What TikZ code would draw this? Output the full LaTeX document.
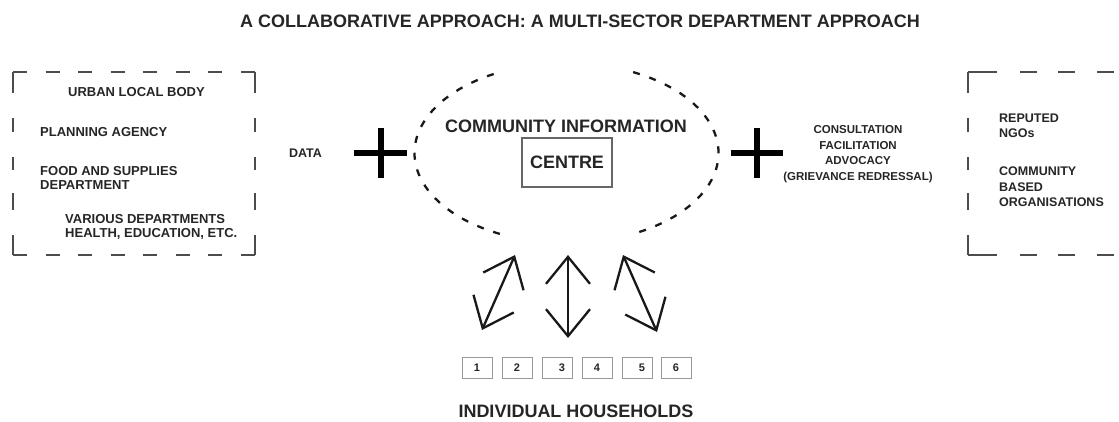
\documentclass[tikz,border=0pt]{standalone}
\usepackage{fontspec}
\setmainfont{Liberation Sans}
\usetikzlibrary{arrows.meta}
\begin{document}
\begin{tikzpicture}[x=1pt,y=-1pt,
  lbl/.style={inner sep=0pt, text=black!85, align=left, font=\bfseries\fontsize{13}{14.5}\selectfont},
  rlbl/.style={lbl, font=\bfseries\fontsize{12.5}{15.5}\selectfont},
  clbl/.style={inner sep=0pt, text=black!85, align=center, font=\bfseries\fontsize{11.5}{15.5}\selectfont},
  big/.style={inner sep=0pt, text=black!85, font=\bfseries\fontsize{18}{20}\selectfont},
  frameh/.style={draw=black!70, line width=1.5pt, dash pattern=on 14pt off 18.57pt},
  framev/.style={draw=black!70, line width=1.5pt, dash pattern=on 21pt off 25pt on 14pt off 25pt on 13pt off 23pt on 17pt off 25pt on 20pt off 10pt},
  plus/.style={line width=6.5pt, black},
  oval/.style={line width=2.3pt, dash pattern=on 7pt off 10pt, black!90},
  hbox/.style={draw=black!40, line width=1pt, minimum width=30pt, minimum height=21pt, inner sep=0pt, font=\bfseries\fontsize{11}{12}\selectfont, text=black!85},
  dbl/.style={line width=2.3pt, black!90, {Straight Barb[length=27pt,width=44pt]}-{Straight Barb[length=27pt,width=44pt]}}
]
\useasboundingbox (0,0) rectangle (1119,421);
\clip (0,0) rectangle (1119,421);
\fill[white] (0,0) rectangle (1119,421);

% title
\node[big] (title) at (580,21) {A COLLABORATIVE APPROACH: A MULTI-SECTOR DEPARTMENT APPROACH};

% left dashed frame
\draw[frameh] (13,72) -- (255,72);
\draw[frameh] (13,255) -- (255,255);
\draw[framev] (13,72) -- (13,255);
\draw[framev] (255,72) -- (255,255);

\node[lbl, anchor=west] (ulb) at (68,92) {URBAN LOCAL BODY};
\node[lbl, anchor=west] (pa) at (40,132) {PLANNING AGENCY};
\node[lbl, anchor=west] (fsd) at (40,178) {FOOD AND SUPPLIES\\DEPARTMENT};
\node[lbl, anchor=west] (vd) at (65,227) {VARIOUS DEPARTMENTS\\HEALTH, EDUCATION, ETC.};

% right dashed frame (runs off the page)
\draw[draw=black!70, line width=1.5pt, dash pattern=on 29pt off 23pt on 17pt off 21pt on 17pt off 22pt on 17pt off 20pt] (968,72) -- (1130,72);
\draw[draw=black!70, line width=1.5pt, dash pattern=on 29pt off 23pt on 17pt off 21pt on 17pt off 22pt on 17pt off 20pt] (968,255) -- (1130,255);
\draw[framev] (968,72) -- (968,255);

\node[rlbl, anchor=west] (ngo) at (999,126) {REPUTED\\NGOs};
\node[rlbl, anchor=west] (cbo) at (999,187) {COMMUNITY\\BASED\\ORGANISATIONS};

% data and plus signs
\node[rlbl, anchor=center] (data) at (305.5,153) {DATA};
\draw[plus] (354,153) -- (407,153);
\draw[plus] (381,128) -- (381,178);
\draw[plus] (731,153) -- (783,153);
\draw[plus] (757,128) -- (757,178);

\node[clbl] (cons) at (858,154) {CONSULTATION\\FACILITATION\\ADVOCACY\\(GRIEVANCE REDRESSAL)};

% community information centre (open dashed oval)
\coordinate (cic) at (566.5,153);
\draw[oval] (cic) ++(-64:152 and 90) arc[start angle=-64, end angle=64, x radius=152, y radius=90];
\draw[oval] (cic) ++(116:152 and 90) arc[start angle=116, end angle=244, x radius=152, y radius=90];
\node[big] (cinfo) at (566,126) {COMMUNITY INFORMATION};
\node[big, draw=black!60, line width=1.5pt, minimum width=90pt, minimum height=49pt] (centre) at (567,162.5) {CENTRE};

% households
\node[hbox] (h1) at (477,367.5) {1};
\node[hbox] (h2) at (517,367.5) {2};
\node[hbox] (h3) at (557,367.5) {\hspace*{10pt}3};
\node[hbox] (h4) at (597,367.5) {4};
\node[hbox] (h5) at (637,367.5) {\hspace*{10pt}5};
\node[hbox] (h6) at (676,367.5) {6};
\node[big] (ih) at (576,411) {INDIVIDUAL HOUSEHOLDS};

% two-way arrows between the centre and the households
\coordinate (a1t) at (515,255);
\coordinate (a1b) at (482,330);
\coordinate (a2t) at (568,255);
\coordinate (a2b) at (568,338);
\coordinate (a3t) at (623,255);
\coordinate (a3b) at (657,332);
\draw[dbl] (a1t) -- (a1b);
\draw[dbl] (a2t) -- (a2b);
\draw[dbl] (a3t) -- (a3b);
\end{tikzpicture}
\end{document}
